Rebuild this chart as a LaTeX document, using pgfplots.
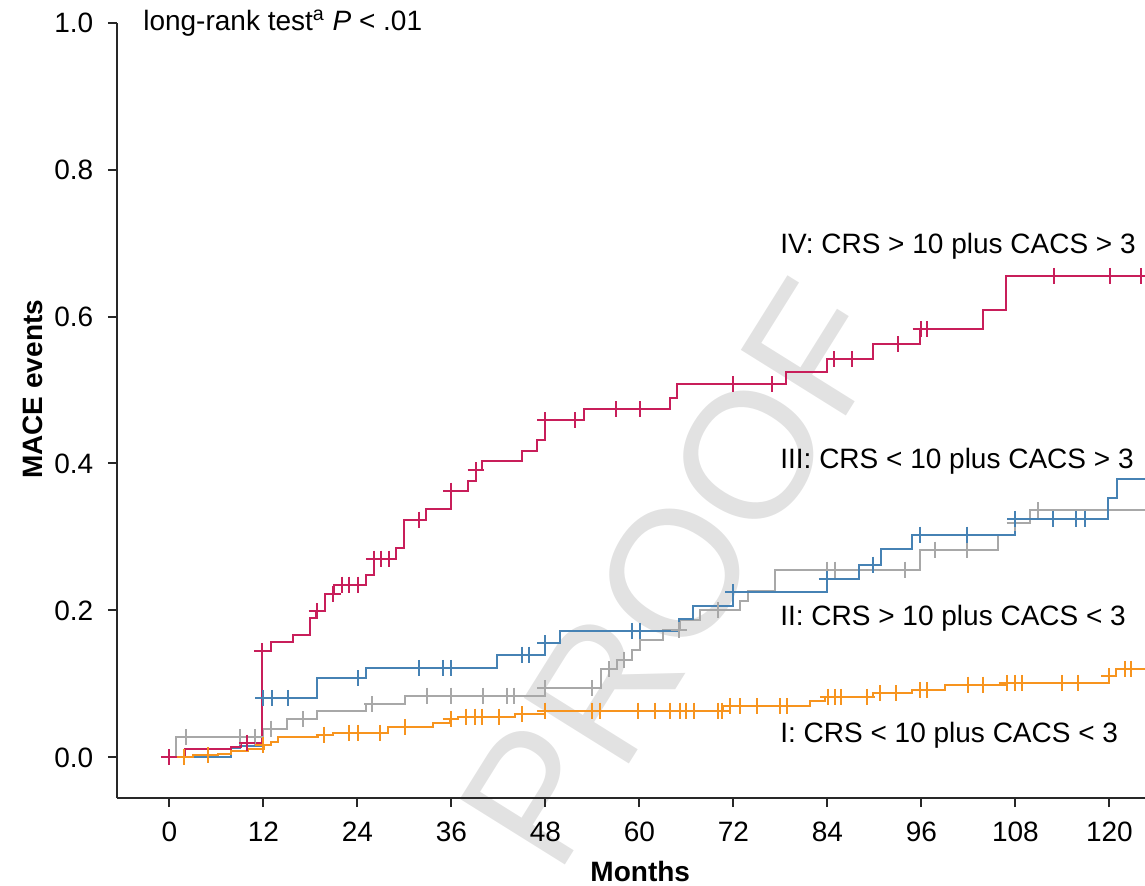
\documentclass[border=0pt]{standalone}
\usepackage{pgfplots}
\pgfplotsset{compat=1.18}
\usepackage{fontspec}
\setmainfont{Liberation Sans}
\definecolor{cIV}{RGB}{200,30,90}
\definecolor{cIII}{RGB}{70,130,180}
\definecolor{cII}{RGB}{168,168,168}
\definecolor{cI}{RGB}{247,148,30}
\definecolor{wm}{RGB}{226,226,226}
\definecolor{axc}{RGB}{40,40,40}
\begin{document}
\fontsize{14}{16.8}\selectfont
\begin{tikzpicture}
\useasboundingbox (-58.5pt,-43.5pt) rectangle (514pt,399pt);
\clip (-58.5pt,-43.5pt) rectangle (514pt,399pt);
% background layer: watermark
\begin{axis}[
 scale only axis, width=514pt, height=387.7pt,
 xmin=-6.68, xmax=124.55, ymin=-0.0553, ymax=1.0,
 hide axis, clip=false,
]
\node[rotate=58, text=wm, font=\fontsize{90}{90}\selectfont, anchor=center] at (axis cs:64.5,0.25) {PROOF};
\end{axis}
\begin{axis}[
 scale only axis, width=514pt, height=387.7pt,
 xmin=-6.68, xmax=124.55, ymin=-0.0553, ymax=1.0,
 axis lines=left, axis line style={-, line width=1pt, axc},
 clip=false,
 xtick={0,12,...,120}, ytick={0,0.2,0.4,0.6,0.8,1.0},
 tick align=outside, major tick length=4.5pt,
 tick style={line width=1pt, axc},
 /pgf/number format/assume math mode=true,
 tick label style={font=\fontsize{14}{16}\selectfont},
 xticklabel style={yshift=-2.5pt},
 yticklabel style={xshift=-2.5pt, /pgf/number format/.cd, fixed, fixed zerofill, precision=1},
 xlabel={\textbf{Months}}, ylabel={\textbf{MACE events}},
 xlabel style={at={(axis description cs:0.509,-0.0954)}, anchor=center},
 ylabel style={at={(axis description cs:-0.0817,0.527)}, anchor=center},
 every axis plot/.append style={line width=1pt},
]
% Group II (gray)
\addplot[const plot, cII, mark=none] coordinates {
(0,0) (0.83,0.028) (11.98,0.039) (14.96,0.0516) (18.8,0.063) (25.1,0.072) (30.07,0.0842)
(48.0,0.0947) (55.1,0.1196) (57.1,0.133) (59.0,0.1467) (60.07,0.1594) (62.96,0.173)
(65.2,0.187) (67.7,0.2007) (72.8,0.2124) (73.9,0.226) (77.3,0.2554) (95.8,0.2826)
(105.8,0.303) (107.9,0.319) (109.9,0.336) (124.5,0.336)};
\addplot[only marks, cII, mark=+, mark size=4pt] coordinates {
(2.1,0.028) (9.0,0.028) (11.0,0.028) (12.96,0.039) (17.0,0.0516) (25.9,0.072) (32.9,0.0842)
(35.9,0.0842) (40.0,0.0842) (43.05,0.0842) (43.98,0.0842) (48.0,0.0947) (54.0,0.0947)
(56.1,0.1196) (58.0,0.133) (65.1,0.173) (70.1,0.2007) (83.9,0.2554) (84.96,0.2554)
(93.9,0.2554) (97.7,0.2826) (101.8,0.2826) (107.9,0.319) (110.9,0.336)};

% Group III (blue)
\addplot[const plot, cIII, mark=none] coordinates {
(0,0) (7.9,0.013) (9.0,0.016) (11.77,0.081) (18.8,0.108) (25.1,0.1219) (41.85,0.140)
(48.0,0.155) (49.9,0.1722) (65.1,0.188) (66.9,0.2056) (71.9,0.2246) (83.9,0.2427)
(88.07,0.2622) (90.9,0.2836) (94.8,0.303) (107.9,0.3247) (119.8,0.3525) (121.0,0.3786)
(124.5,0.3786)};
\addplot[only marks, cIII, mark=+, mark size=4pt] coordinates {
(11.98,0.081) (13.05,0.081) (15.1,0.081) (24.1,0.108) (31.9,0.1219) (34.96,0.1219)
(35.9,0.1219) (44.96,0.140) (45.9,0.140) (48.0,0.155) (59.0,0.1722) (60.07,0.1722)
(72.0,0.2246) (83.9,0.2427) (89.85,0.2622) (95.8,0.303) (101.8,0.303) (108.0,0.3247)
(112.8,0.3247) (115.8,0.3247) (116.9,0.3247)};

% Group I (orange)
\addplot[const plot, cI, mark=none] coordinates {
(0,0) (3.0,0.003) (6.2,0.005) (7.9,0.0086) (10.06,0.0118) (12.06,0.0163) (13.0,0.0204)
(13.9,0.028) (19.0,0.031) (20.9,0.0335) (27.9,0.041) (33.7,0.0462) (35.8,0.0516)
(36.9,0.0553) (44.1,0.0584) (48.0,0.0635) (70.7,0.0697) (81.8,0.0765) (83.7,0.0824)
(89.85,0.087) (94.75,0.0915) (99.0,0.099) (106.9,0.1014) (119.9,0.1105) (120.9,0.1205)
(124.5,0.1205)};
\addplot[only marks, cI, mark=+, mark size=4pt] coordinates {
(1.85,0) (4.96,0.003) (12.0,0.0163) (19.7,0.031) (22.96,0.0335) (24.1,0.0335) (26.9,0.0335)
(30.07,0.041) (35.9,0.0516) (37.9,0.0553) (39.0,0.0553) (39.9,0.0553) (42.06,0.0553)
(44.96,0.0584) (48.0,0.0635) (54.0,0.0635) (55.0,0.0635) (59.85,0.0635) (62.0,0.0635)
(63.9,0.0635) (65.2,0.0635) (66.0,0.0635) (67.0,0.0635) (70.06,0.0635) (70.5,0.0635)
(71.6,0.0697) (72.8,0.0697) (75.0,0.0697) (77.9,0.0697) (78.8,0.0697) (84.1,0.0824)
(84.96,0.0824) (85.8,0.0824) (89.0,0.0824) (90.7,0.087) (92.7,0.087) (95.8,0.0915)
(96.75,0.0915) (102.0,0.099) (103.9,0.099) (106.9,0.1014) (107.9,0.1014) (108.8,0.1014)
(113.9,0.1014) (116.0,0.1014) (120.0,0.1105) (122.0,0.1205) (122.8,0.1205)};

% Group IV (red)
\addplot[const plot, cIV, mark=none] coordinates {
(0,0) (1.98,0.011) (7.9,0.0145) (9.1,0.020) (11.8,0.1445) (12.96,0.157) (15.8,0.167)
(17.94,0.190) (18.7,0.199) (19.85,0.2224) (21.0,0.235) (25.09,0.2477) (26.1,0.2704)
(28.9,0.285) (29.98,0.3234) (32.8,0.3383) (35.98,0.3632) (38.15,0.3764) (39.1,0.391)
(39.9,0.4035) (44.96,0.417) (46.9,0.432) (48.0,0.459) (52.96,0.474) (63.85,0.489)
(64.8,0.5077) (78.7,0.5245) (83.9,0.5417) (89.85,0.562) (95.8,0.5825) (103.9,0.6087)
(106.8,0.6553) (124.5,0.6553)};
\addplot[only marks, cIV, mark=+, mark size=4pt] coordinates {
(0,0) (9.9,0.020) (11.85,0.1445) (18.8,0.199) (20.9,0.2224) (21.98,0.235) (22.96,0.235)
(24.1,0.235) (26.1,0.2704) (26.97,0.2704) (28.1,0.2704) (31.9,0.3234) (36.0,0.3632)
(39.1,0.391) (48.0,0.459) (51.8,0.459) (57.0,0.474) (60.07,0.474) (71.97,0.5077)
(76.96,0.5077) (84.9,0.5417) (87.1,0.5417) (93.0,0.562) (95.9,0.5825) (96.7,0.5825)
(112.9,0.6553) (120.1,0.6553) (124.1,0.6553)};

\node[anchor=base west, inner sep=0pt] at (axis cs:-3.37,0.9886) {long-rank test\textsuperscript{a} \textit{P} < .01};
\node[anchor=base west, inner sep=0pt] at (axis cs:77.95,0.686) {IV: CRS > 10 plus CACS > 3};
\node[anchor=base west, inner sep=0pt] at (axis cs:77.95,0.3934) {III: CRS < 10 plus CACS > 3};
\node[anchor=base west, inner sep=0pt] at (axis cs:77.95,0.1788) {II: CRS > 10 plus CACS < 3};
\node[anchor=base west, inner sep=0pt] at (axis cs:77.95,0.020) {I: CRS < 10 plus CACS < 3};
\end{axis}
\end{tikzpicture}
\end{document}
